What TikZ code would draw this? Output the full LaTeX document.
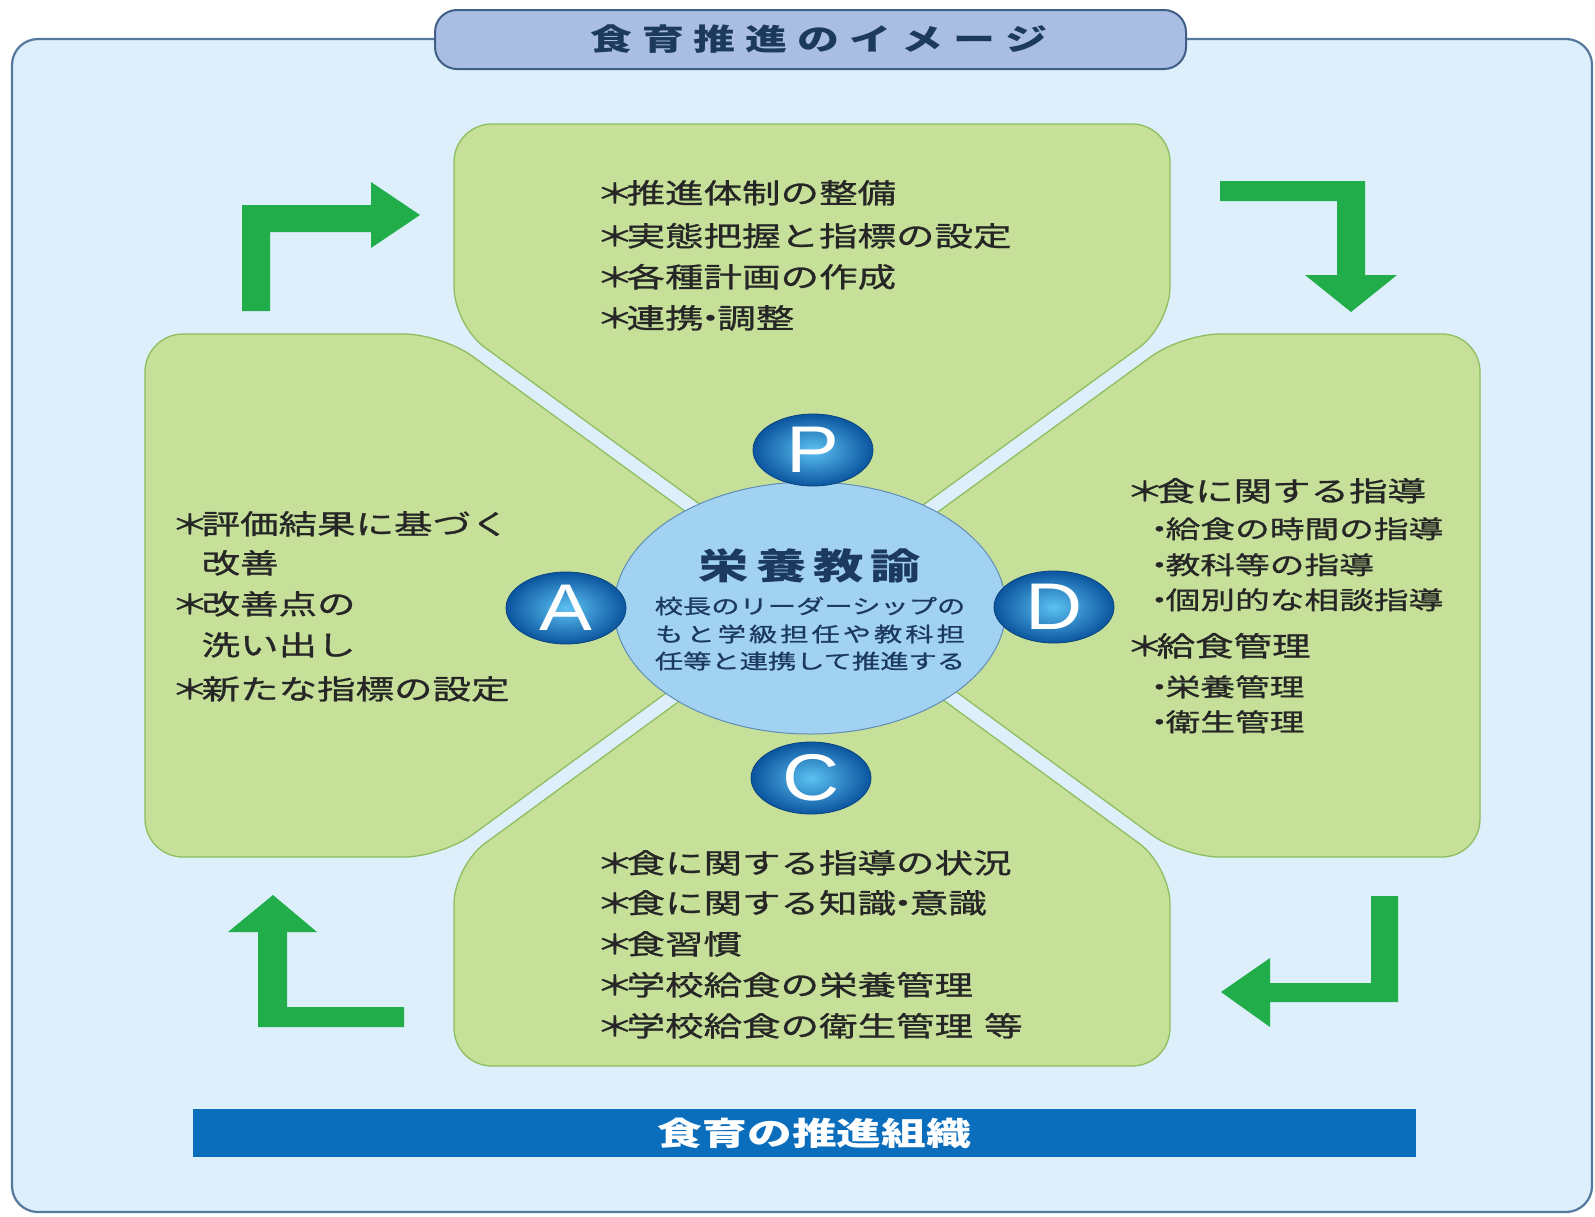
\documentclass[tikz,border=0pt]{standalone}
\usepackage{fontspec}
\usetikzlibrary{shapes.geometric}
\newfontfamily\jp[FakeStretch=1.4]{Noto Sans CJK JP}
\newfontfamily\jpm[FakeStretch=1.4,FakeBold=1]{Noto Sans CJK JP}
\newfontfamily\lat[FakeStretch=1.2]{Liberation Sans}
\definecolor{pagebg}{HTML}{DDEFFB}
\definecolor{boxline}{HTML}{55799E}
\definecolor{titlefill}{HTML}{AABDE3}
\definecolor{titleline}{HTML}{3F5F86}
\definecolor{navy}{HTML}{1C3A5E}
\definecolor{petalfill}{HTML}{C6E09A}
\definecolor{petalline}{HTML}{8DBF5E}
\definecolor{txt}{HTML}{262626}
\definecolor{ellfill}{HTML}{A2D2F1}
\definecolor{ellline}{HTML}{5F8DB5}
\definecolor{ballin}{HTML}{5CC2F2}
\definecolor{ballout}{HTML}{0B559F}
\definecolor{arrowgreen}{HTML}{22AD4B}
\definecolor{barblue}{HTML}{0B6EBD}
\newcommand\AS{\makebox[0.85em][c]{＊}}
\newcommand\DT{\makebox[0.5em][c]{・}}
\newcommand\lsp[1]{\kern#1pt\relax}
\begin{document}
\begin{tikzpicture}[x=1pt,y=-1pt,
  petal/.style={fill=petalfill, draw=petalline, line width=1.3pt, rounded corners=38pt},
  ptxt/.style={font=\jpm\fontsize{27.5}{33}\selectfont, text=txt, anchor=west, inner sep=0pt, text height=24pt, text depth=3.5pt},
  psub/.style={font=\jpm\fontsize{24.8}{30}\selectfont, text=txt, anchor=west, inner sep=0pt, text height=21.6pt, text depth=3.2pt},
  ctxt/.style={font=\jpm\fontsize{20.2}{24}\selectfont, text=navy, inner sep=0pt},
  ball/.style={ellipse, minimum width=120pt, minimum height=72pt, inner sep=0pt, inner color=ballin, outer color=ballout, draw=ballout!80!black, line width=0.8pt, text=white, font=\lat\fontsize{66}{66}\selectfont},
  garrow/.style={fill=arrowgreen},
]
\useasboundingbox (0,0) rectangle (1595,1216);
\fill[white] (0,0) rectangle (1595,1216);
% outer frame
\draw[fill=pagebg, draw=boxline, line width=2.2pt, rounded corners=26pt] (12,39) rectangle (1592,1212);
% title
\node[draw=titleline, fill=titlefill, line width=2pt, rounded corners=22pt, minimum width=751pt, minimum height=59pt, inner sep=0pt, text=navy, font=\jp\bfseries\fontsize{30}{34}\selectfont] (title) at (810.5,39.5)
  {\hspace*{17pt}食\lsp{10}育\lsp{10}推\lsp{10}進\lsp{10}の\lsp{10}イ\lsp{10}メ\lsp{10}ー\lsp{10}ジ};
% petals
\path[petal] (812,586) -- (454,325) -- (454,124) -- (1170,124) -- (1170,325) -- cycle;
\path[petal] (800,595) -- (442,334) -- (145,334) -- (145,857) -- (442,857) -- cycle;
\path[petal] (824,595) -- (1182,334) -- (1480,334) -- (1480,857) -- (1182,857) -- cycle;
\path[petal] (812,604) -- (454,866) -- (454,1066) -- (1170,1066) -- (1170,866) -- cycle;
% centre ellipse
\node[ellipse, fill=ellfill, draw=ellline, line width=1pt, minimum width=392pt, minimum height=252pt, inner sep=0pt] (core) at (810,608) {};
\node[font=\jp\bfseries\fontsize{36}{40}\selectfont, text=navy, inner sep=0pt] (role) at (810,566) {栄\lsp{7}養\lsp{7}教\lsp{7}諭};
\node[ctxt] (c1) at (810,606) {校長のリーダーシップの};
\node[ctxt] (c2) at (810,634) {も\lsp3と\lsp3学\lsp3級\lsp3担\lsp3任\lsp3や\lsp3教\lsp3科\lsp3担};
\node[ctxt] (c3) at (810,661) {任等と連携して推進する};
% PDCA balls
\node[ball] (P) at (813,450) {P};
\node[ball] (A) at (566,608) {A};
\node[ball] (D) at (1054,607) {D};
\node[ball] (C) at (811,778) {C};
% top petal text
\node[ptxt] (t1) at (603,193) {\AS 推進体制の整備};
\node[ptxt] (t2) at (603,236) {\AS 実態把握と指標の設定};
\node[ptxt] (t3) at (603,277) {\AS 各種計画の作成};
\node[ptxt] (t4) at (603,318) {\AS 連携\makebox[0.5em][c]{・}調整};
% left petal text
\node[ptxt] (l1) at (178,524) {\AS 評価結果に基づく};
\node[ptxt] (l2) at (178,563) {\hspace*{0.85em}改善};
\node[ptxt] (l3) at (178,604) {\AS 改善点の};
\node[ptxt] (l4) at (178,645) {\hspace*{0.85em}洗い出し};
\node[ptxt] (l5) at (178,689) {\AS 新たな指標の設定};
% right petal text
\node[ptxt] (r1) at (1133,491) {\AS 食に関する指導};
\node[psub] (r2) at (1153,529) {\DT 給食の時間の指導};
\node[psub] (r3) at (1153,565) {\DT 教科等の指導};
\node[psub] (r4) at (1153,600) {\DT 個別的な相談指導};
\node[ptxt] (r5) at (1133,646) {\AS 給食管理};
\node[psub] (r6) at (1153,687) {\DT 栄養管理};
\node[psub] (r7) at (1153,722) {\DT 衛生管理};
% bottom petal text
\node[ptxt] (b1) at (603,863) {\AS 食に関する指導の状況};
\node[ptxt] (b2) at (603,903) {\AS 食に関する知識\makebox[0.5em][c]{・}意識};
\node[ptxt] (b3) at (603,944) {\AS 食習慣};
\node[ptxt] (b4) at (603,985) {\AS 学校給食の栄養管理};
\node[ptxt] (b5) at (603,1026) {\AS 学校給食の衛生管理\hspace{0.4em}等};
% cycle arrows
\fill[garrow] (242,311) -- (242,205) -- (371,205) -- (371,182) -- (420,215) -- (371,248) -- (371,232) -- (270,232) -- (270,311) -- cycle;
\fill[garrow] (1220,181) -- (1365,181) -- (1365,275) -- (1397,275) -- (1351,312) -- (1305,275) -- (1337,275) -- (1337,201) -- (1220,201) -- cycle;
\fill[garrow] (1371,896) -- (1398,896) -- (1398,1002) -- (1270,1002) -- (1270,1027) -- (1221,992) -- (1270,958) -- (1270,983) -- (1371,983) -- cycle;
\fill[garrow] (404,1007) -- (404,1027) -- (258,1027) -- (258,932) -- (228,932) -- (273,895) -- (317,932) -- (287,932) -- (287,1007) -- cycle;
% organisation bar
\node[fill=barblue, minimum width=1223pt, minimum height=48pt, inner sep=0pt, text=white, font=\jp\bfseries\fontsize{32}{36}\selectfont] (org) at (804.5,1133) {\hspace*{20pt}食育の推進組織};
\end{tikzpicture}
\end{document}
